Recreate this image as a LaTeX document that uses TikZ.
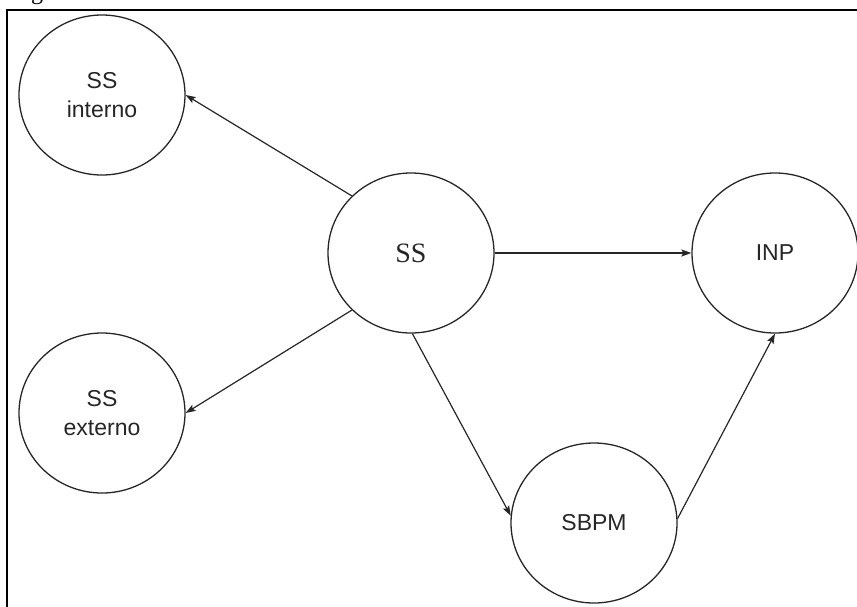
\documentclass[tikz,border=0pt]{standalone}
\usepackage{fontspec}
\setmainfont{Liberation Sans}
\newfontfamily\serifface{Liberation Serif}
\usetikzlibrary{shapes.geometric,arrows.meta}
\tikzset{
  bubble/.style={ellipse, draw=black!85, line width=1.3pt, minimum width=166pt,
    minimum height=160pt, inner sep=0pt, align=center, font=\fontsize{23}{29}\selectfont,
    text=black!85},
  link/.style={draw=black!85, line width=1.2pt,
    -{Stealth[length=10pt,width=7pt,inset=2pt]}},
  frame/.style={draw=black, line width=2pt}
}
\begin{document}
\begin{tikzpicture}[x=1pt,y=-1pt]
  \useasboundingbox (0,0) rectangle (857,606);
  \clip (0,0) rectangle (857,606);
  % caption remnant above the frame
  \node[anchor=base west, inner sep=0pt, font=\serifface\fontsize{24}{28}\selectfont] (cap) at (31,-1) {g};
  % outer frame
  \draw[frame] (7,10) rectangle (880,630);

  % nodes
  \node[bubble] (ssint) at (102,95)  {SS\\interno};
  \node[bubble] (ssext) at (102,413) {SS\\externo};
  \node[bubble, font=\serifface\fontsize{28}{32}\selectfont] (ss) at (411,253) {SS};
  \node[bubble] (inp)   at (775,253) {INP};
  \node[bubble] (sbpm)  at (594,523) {SBPM};

  % connectors
  \draw[link] (ss.136) -- (ssint.east);
  \draw[link] (ss.224) -- (ssext.east);
  \draw[link] (ss.east) -- (inp.west);
  \draw[link] (ss.271) -- (sbpm.175);
  \draw[link] (sbpm.3) -- (inp.south);
\end{tikzpicture}
\end{document}
